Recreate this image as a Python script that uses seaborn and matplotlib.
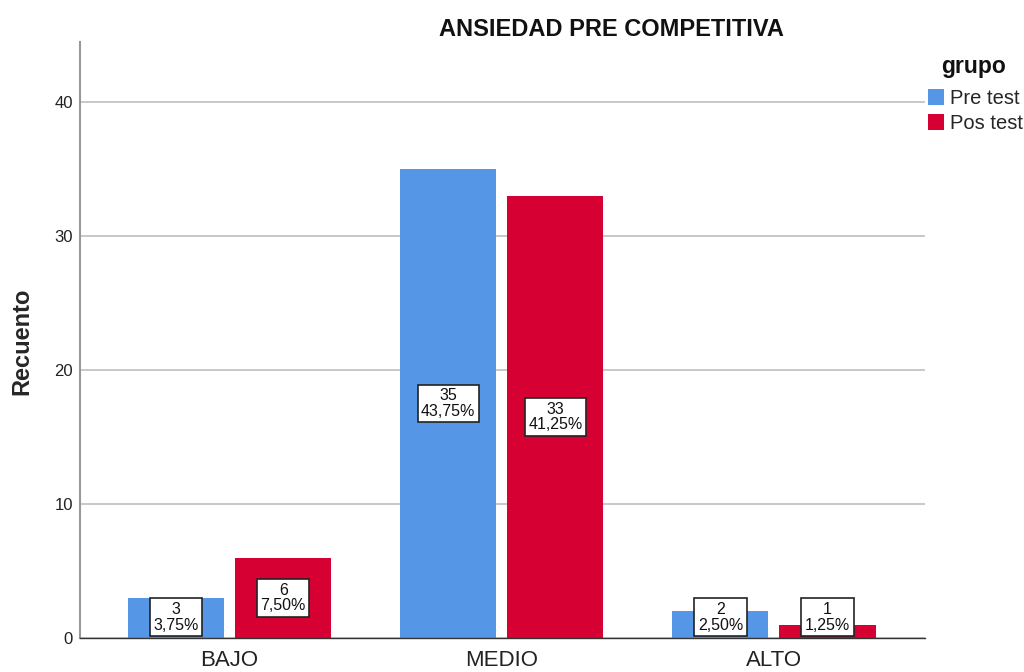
import matplotlib
matplotlib.use("Agg")
import matplotlib.pyplot as plt
import seaborn as sns
import pandas as pd

categories = ["BAJO", "MEDIO", "ALTO"]
groups = ["Pre test", "Pos test"]
pre_values = [3, 35, 2]
pos_values = [6, 33, 1]
total_n = 80
title = "ANSIEDAD PRE COMPETITIVA"
ylabel = "Recuento"
legend_title = "grupo"

sns.set_theme(style="white")
plt.rcParams['font.family'] = ['Liberation Sans', 'DejaVu Sans']

df = pd.DataFrame({
    "nivel": categories * 2,
    "grupo": [groups[0]] * 3 + [groups[1]] * 3,
    "recuento": pre_values + pos_values,
})

colors = ["#5596E6", "#D60032"]

fig = plt.figure(figsize=(10.24, 6.72), dpi=100)
ax = fig.add_axes([80 / 1024, 34 / 672, 845 / 1024, 596 / 672])

sns.barplot(data=df, x="nivel", y="recuento", hue="grupo", order=categories,
            hue_order=groups, palette=colors, width=0.787, gap=0.103,
            saturation=1, ax=ax, legend=True, errorbar=None, linewidth=0)

ax.set_xlim(-0.55, 2.555)
ax.set_ylim(0, 44.5)
ax.set_yticks([0, 10, 20, 30, 40])
ax.yaxis.grid(True, color="#C8C8C8", linewidth=1.4)
ax.set_axisbelow(True)
for s in ["top", "right"]:
    ax.spines[s].set_visible(False)
ax.spines["left"].set_color("#999999")
ax.spines["left"].set_linewidth(1.5)
ax.spines["bottom"].set_color("#333333")
ax.spines["bottom"].set_linewidth(1.0)
ax.tick_params(axis="y", length=0, labelsize=12, labelcolor="#222222", pad=5)
ax.tick_params(axis="x", length=0, labelsize=16, labelcolor="#222222", pad=9)
ax.set_xlabel("")
ax.set_ylabel(ylabel, fontsize=17, fontweight="bold")
ax.yaxis.set_label_coords(-47 / 845, (638 - 341) / 596)

# annotations
for container, vals in zip(ax.containers, [pre_values, pos_values]):
    for bar, v in zip(container, vals):
        cx = bar.get_x() + bar.get_width() / 2
        cy = max(v / 2, 1.55)
        pct = f"{v / total_n * 100:.2f}".replace(".", ",") + "%"
        ax.text(cx, cy, f"{v}\n{pct}", ha="center", va="center", fontsize=11.5,
                linespacing=1.05, color="#111111",
                bbox=dict(boxstyle="square,pad=0.22", facecolor="white",
                          edgecolor="#222222", linewidth=1.2))

handles, labels = ax.get_legend_handles_labels()
ax.legend_.remove()
leg = fig.legend(handles, labels, loc="upper left",
                 bbox_to_anchor=(928 / 1024, 1 - 89 / 672), frameon=False,
                 fontsize=14.5,
                 handlelength=0.8, handleheight=0.8, handletextpad=0.3,
                 labelspacing=0.3, borderaxespad=0, borderpad=0)
fig.text(974 / 1024, 1 - 67 / 672, legend_title, ha="center", va="center",
         fontsize=16.5, fontweight="bold", color="#111111")

fig.text(611 / 1024, 1 - 29 / 672, title, ha="center", va="center",
         fontsize=17, fontweight="bold", color="#111111")

fig.savefig("out.png", dpi=100)
